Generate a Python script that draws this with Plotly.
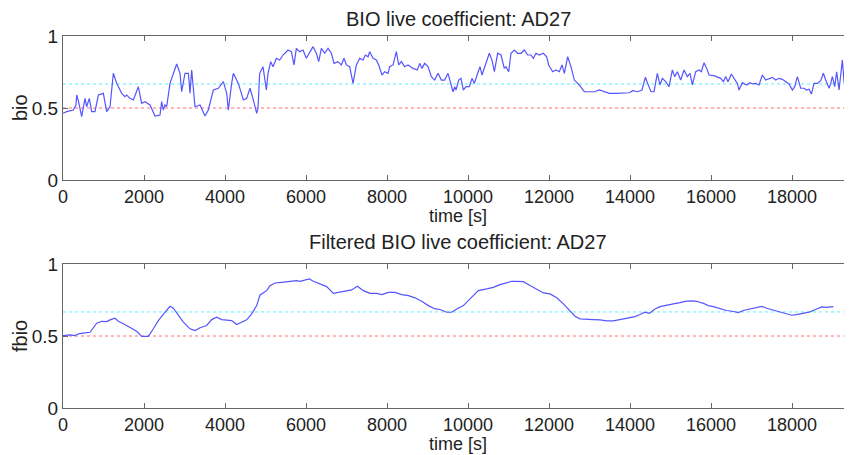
import plotly.graph_objects as go

# raw BIO live coefficient
t_bio = [0, 91, 255, 321, 338, 380, 461, 543, 584, 650, 708, 790, 873, 996, 1078, 1161, 1243, 1325,
         1449, 1531, 1572, 1654, 1737, 1860, 1942, 2025, 2148, 2272, 2395, 2436, 2477, 2518, 2560,
         2642, 2807, 2889, 2930, 3012, 3095, 3136, 3177, 3259, 3383, 3506, 3588, 3712, 3835, 3959,
         4041, 4082, 4164, 4206, 4329, 4453, 4535, 4617, 4699, 4782, 4815,
         4856, 4938, 5021, 5062, 5128, 5185, 5268, 5350, 5432, 5556, 5638, 5704, 5761, 5844, 5926,
         6008, 6091, 6173, 6255, 6313, 6379, 6461, 6543, 6626, 6691, 6790, 6873, 6938, 6996, 7078,
         7161, 7243, 7325, 7407, 7465, 7531, 7572, 7654, 7737, 7794, 7877, 7942, 8025, 8066, 8148,
         8231, 8288, 8354, 8436, 8519, 8642, 8749, 8807, 8864, 8930, 9012, 9095, 9177, 9259, 9342,
         9424, 9506, 9630, 9671, 9703, 9769, 9826, 9884, 9950, 10032, 10098, 10156, 10238, 10296,
         10345, 10444, 10526, 10592, 10650, 10732, 10814, 10896, 10938, 11003, 11061, 11143, 11226,
         11308, 11390, 11472, 11555, 11612, 11678, 11761, 11859, 11942, 11991, 12090, 12172, 12254,
         12320, 12378, 12460, 12542, 12625, 12748, 12872, 12995, 13119, 13242, 13365, 13489, 13653,
         13818, 13983, 14065, 14188, 14295, 14378, 14435, 14517, 14592, 14674, 14740, 14798, 14880,
         14962, 15045, 15102, 15168, 15250, 15333, 15415, 15481, 15538, 15621, 15703, 15761, 15827,
         15892, 15950, 16073, 16156, 16238, 16304, 16362, 16419, 16501, 16567, 16650, 16691, 16773,
         16880, 16962, 17020, 17102, 17184, 17267, 17349, 17431, 17514, 17596, 17678, 17761, 17843,
         17925, 18008, 18065, 18131, 18213, 18296, 18361, 18419, 18477, 18543, 18625, 18707, 18773,
         18831, 18913, 18954, 18995, 19053, 19102, 19160, 19201, 19242, 19283, 19325, 19382, 19448,
         19506]
bio = [0.463, 0.475, 0.486, 0.521, 0.590, 0.55, 0.440, 0.567, 0.509, 0.567, 0.475, 0.475, 0.590,
       0.602, 0.475, 0.509, 0.741, 0.671, 0.602, 0.579, 0.590, 0.567, 0.556, 0.648, 0.532, 0.544,
       0.521, 0.444, 0.451, 0.544, 0.486, 0.521, 0.509, 0.671, 0.806, 0.741, 0.613, 0.741, 0.741,
       0.602, 0.764, 0.509, 0.521, 0.444, 0.486, 0.625, 0.637, 0.683, 0.602, 0.486, 0.671, 0.741,
       0.671, 0.556, 0.567, 0.637, 0.556, 0.463, 0.50,
       0.741, 0.787, 0.625, 0.741, 0.822, 0.787, 0.845, 0.833, 0.868, 0.903, 0.891, 0.799, 0.914,
       0.891, 0.903, 0.845, 0.891, 0.926, 0.880, 0.822, 0.914, 0.880, 0.914, 0.880, 0.810, 0.822,
       0.799, 0.845, 0.799, 0.787, 0.671, 0.799, 0.845, 0.833, 0.868, 0.856, 0.891, 0.845, 0.833,
       0.799, 0.729, 0.752, 0.741, 0.787, 0.799, 0.891, 0.799, 0.822, 0.787, 0.799, 0.775, 0.764,
       0.810, 0.775, 0.810, 0.787, 0.718, 0.694, 0.741, 0.694, 0.694, 0.741, 0.613, 0.648, 0.625,
       0.694, 0.706, 0.625, 0.648, 0.648, 0.706, 0.671, 0.741, 0.787, 0.729, 0.810, 0.880, 0.833,
       0.752, 0.880, 0.868, 0.775, 0.787, 0.752, 0.880, 0.903, 0.880, 0.880, 0.903, 0.868, 0.868,
       0.845, 0.880, 0.868, 0.880, 0.856, 0.799, 0.752, 0.764, 0.752, 0.799, 0.741, 0.856, 0.787,
       0.694, 0.660, 0.613, 0.613, 0.613, 0.625, 0.613, 0.602, 0.602, 0.606, 0.606, 0.620, 0.613,
       0.625, 0.713, 0.671, 0.613, 0.613, 0.741, 0.660, 0.706, 0.683, 0.648, 0.764, 0.718, 0.752,
       0.694, 0.764, 0.718, 0.741, 0.660, 0.752, 0.764, 0.752, 0.815, 0.775, 0.729, 0.725, 0.718,
       0.706, 0.683, 0.718, 0.683, 0.736, 0.706, 0.671, 0.625, 0.676, 0.660, 0.676, 0.667, 0.671,
       0.660, 0.729, 0.694, 0.706, 0.713, 0.694, 0.706, 0.699, 0.683, 0.667, 0.625, 0.648, 0.718,
       0.637, 0.637, 0.625, 0.630, 0.597, 0.671, 0.671, 0.690, 0.741, 0.694, 0.637, 0.671, 0.718,
       0.648, 0.752, 0.625, 0.741, 0.833, 0.683, 0.660, 0.706, 0.729, 0.694]

# filtered coefficient
t_fbio = [0, 173, 297, 379, 503, 667, 832, 955, 1079, 1161, 1284, 1367, 1490, 1655, 1819, 1943,
          2107, 2231, 2354, 2519, 2642, 2725, 2848, 2972, 3136, 3260, 3383, 3548, 3671, 3795, 3918,
          4041, 4165, 4288, 4412, 4535, 4659, 4782, 4864, 5029, 5111, 5235, 5399, 5605, 5770, 5852,
          5975, 6082, 6181, 6346, 6510, 6675, 6839, 7004, 7127, 7267, 7416, 7580, 7745, 7868, 8033,
          8197, 8362, 8527, 8691, 8856, 9020, 9185, 9308, 9473, 9596, 9720, 9885, 10049, 10255,
          10461, 10625, 10790, 10954, 11078, 11201, 11366, 11531, 11695, 11860, 12024, 12189, 12354,
          12518, 12642, 12765, 12929, 13094, 13259, 13423, 13588, 13752, 13876, 14000, 14123, 14246,
          14370, 14477, 14617, 14740, 14905, 15069, 15234, 15357, 15522, 15645, 15810, 15933, 16057,
          16221, 16386, 16551, 16674, 16797, 16962, 17127, 17250, 17374, 17538, 17703, 17867, 17991,
          18114, 18279, 18443, 18608, 18732, 18855, 19020]
fbio = [0.503, 0.508, 0.503, 0.515, 0.520, 0.526, 0.589, 0.602, 0.600, 0.612, 0.623, 0.602, 0.585,
        0.561, 0.533, 0.497, 0.497, 0.550, 0.607, 0.665, 0.706, 0.693, 0.642, 0.596, 0.550, 0.538,
        0.557, 0.573, 0.614, 0.630, 0.614, 0.612, 0.607, 0.580, 0.596, 0.612, 0.654, 0.711, 0.785,
        0.815, 0.850, 0.868, 0.873, 0.880, 0.884, 0.880, 0.889, 0.896, 0.880, 0.862, 0.843, 0.796,
        0.803, 0.810, 0.820, 0.845, 0.815, 0.796, 0.796, 0.787, 0.803, 0.803, 0.787, 0.780, 0.765,
        0.741, 0.711, 0.688, 0.684, 0.665, 0.665, 0.688, 0.711, 0.758, 0.815, 0.827, 0.838, 0.857,
        0.868, 0.880, 0.880, 0.877, 0.850, 0.827, 0.799, 0.792, 0.765, 0.723, 0.670, 0.637, 0.619,
        0.614, 0.614, 0.612, 0.605, 0.605, 0.614, 0.626, 0.630, 0.635, 0.649, 0.665, 0.658, 0.688,
        0.704, 0.711, 0.723, 0.732, 0.741, 0.744, 0.741, 0.727, 0.711, 0.704, 0.688, 0.677, 0.670,
        0.663, 0.677, 0.688, 0.695, 0.706, 0.693, 0.681, 0.668, 0.654, 0.644, 0.649, 0.658, 0.668,
        0.688, 0.702, 0.699, 0.704]

x_end = 19480
limits_t = [0, x_end]
lower_limit = [0.5, 0.5]
upper_limit = [0.667, 0.667]
x_ticks = list(range(0, 18001, 2000))
x_ticktext = [str(v) for v in x_ticks]
y_ticks = [0, 0.5, 1]
y_ticktext = ["0", "0.5", "1"]

# the page body adds an 8px margin, so the figure is laid out 8px smaller
OFF = 8
W, H = 852 - OFF, 455 - OFF
font = "Liberation Sans, Arial, sans-serif"
blue = "rgb(85,85,255)"
axis_grey = "#666666"


def ydom(top_px, bottom_px):
    return [(H - (bottom_px - OFF)) / H, (H - (top_px - OFF)) / H]


fig = go.Figure()

panels = [
    ("x", "y", t_bio, bio),
    ("x2", "y2", t_fbio, fbio),
]

for xa, ya, t, v in panels:
    fig.add_trace(go.Scatter(x=limits_t, y=lower_limit, mode="lines", xaxis=xa, yaxis=ya,
                             line=dict(color="rgb(255,110,110)", width=1, dash="dot"),
                             hoverinfo="skip", showlegend=False))
    fig.add_trace(go.Scatter(x=limits_t, y=upper_limit, mode="lines", xaxis=xa, yaxis=ya,
                             line=dict(color="rgb(90,240,255)", width=1, dash="dot"),
                             hoverinfo="skip", showlegend=False))
    fig.add_trace(go.Scatter(x=t, y=v, mode="lines", xaxis=xa, yaxis=ya,
                             line=dict(color=blue, width=1.2), showlegend=False))

axis_common = dict(showline=True, linecolor=axis_grey, linewidth=1, mirror="ticks",
                   ticks="inside", ticklen=5, tickcolor=axis_grey, showgrid=False,
                   zeroline=False, automargin=False)
x_font = dict(family=font, size=18, color="#222222")
y_font = dict(family=font, size=19, color="#222222")

x_dom = [(63 - OFF) / W, 1.0]
fig.update_layout(
    width=W, height=H,
    margin=dict(l=0, r=0, t=0, b=0, autoexpand=False),
    paper_bgcolor="white", plot_bgcolor="white",
    xaxis=dict(domain=x_dom, anchor="y", range=[0, x_end], tickvals=x_ticks,
               ticktext=x_ticktext, tickfont=x_font, **axis_common),
    yaxis=dict(domain=ydom(36, 180), anchor="x", range=[0, 1], tickvals=y_ticks,
               ticktext=y_ticktext, tickfont=y_font, **axis_common),
    xaxis2=dict(domain=x_dom, anchor="y2", range=[0, x_end], tickvals=x_ticks,
                ticktext=x_ticktext, tickfont=x_font, **axis_common),
    yaxis2=dict(domain=ydom(264, 408), anchor="x2", range=[0, 1], tickvals=y_ticks,
                ticktext=y_ticktext, tickfont=y_font, **axis_common),
)

title_font = dict(family=font, size=20, color="#222222")
xlabel_font = dict(family=font, size=18, color="#222222")
notes = [
    ("BIO live coefficient: AD27", 458, 19, 0, title_font),
    ("time [s]", 458, 216, 0, xlabel_font),
    ("bio", 20, 108, -90, title_font),
    ("Filtered BIO live coefficient: AD27", 458, 242, 0, title_font),
    ("time [s]", 458, 444, 0, xlabel_font),
    ("fbio", 20, 336, -90, title_font),
]
for text, px, py, ang, fnt in notes:
    fig.add_annotation(text=text, x=(px - OFF) / W, y=1 - (py - OFF) / H,
                       xref="paper", yref="paper", showarrow=False, textangle=ang,
                       font=fnt, xanchor="center", yanchor="middle")

fig.write_html("out.html")
